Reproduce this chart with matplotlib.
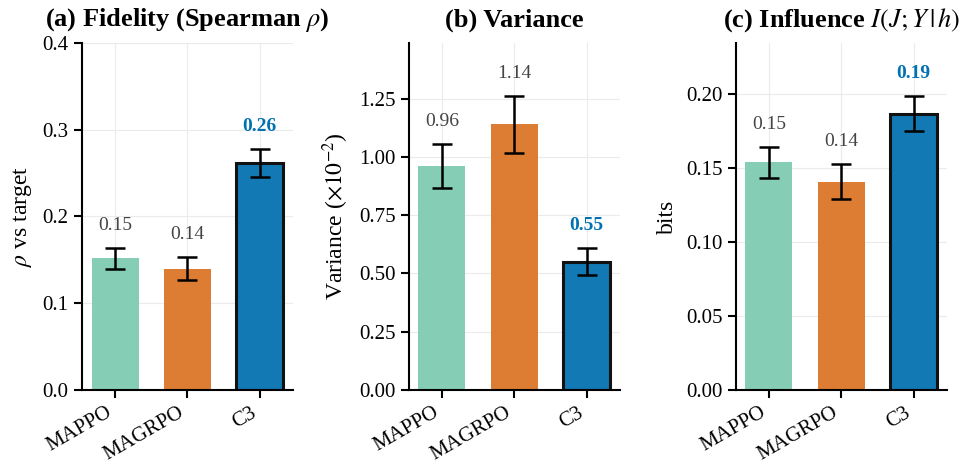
import numpy as np
import matplotlib
matplotlib.use("Agg")
import matplotlib.pyplot as plt
from matplotlib.ticker import MultipleLocator

plt.rcParams['font.family'] = ['Liberation Serif', 'DejaVu Serif']
plt.rcParams['mathtext.fontset'] = 'stix'

methods = ['MAPPO', 'MAGRPO', 'C3']
colors = ['#85CDB5', '#DD7D34', '#1279B4']

fid_mean = [0.152, 0.140, 0.262]
fid_err = [0.012, 0.013, 0.016]

var_mean = [0.96, 1.14, 0.55]
var_err = [0.095, 0.122, 0.058]

inf_mean = [0.154, 0.141, 0.187]
inf_err = [0.0105, 0.012, 0.012]

panels = [
    ('(a) Fidelity (Spearman $\\rho$)', '$\\rho$ vs target', fid_mean, fid_err, 0.4, 0.1),
    ('(b) Variance', 'Variance ($\\times 10^{-2}$)', var_mean, var_err, None, 0.25),
    ('(c) Influence $I(J;Y\\,|\\,h)$', 'bits', inf_mean, inf_err, None, 0.05),
]

fig, axes = plt.subplots(1, 3, figsize=(9.64, 4.66), dpi=100)
fig.subplots_adjust(left=0.085, right=0.982, bottom=0.163, top=0.908, wspace=0.55)

x = np.arange(len(methods))
for ax, (title, ylabel, mean, err, ytop, step) in zip(axes, panels):
    ax.grid(True, color='#ebebeb', linewidth=0.8, zorder=0)
    ax.set_axisbelow(True)
    bars = ax.bar(x, mean, width=0.65, color=colors, zorder=2)
    bars[2].set_edgecolor('#111111')
    bars[2].set_linewidth(2.2)
    ax.errorbar(x, mean, yerr=err, fmt='none', ecolor='black',
                elinewidth=1.8, capsize=7, capthick=1.8, zorder=3)
    if ytop is None:
        ytop = max(m + e for m, e in zip(mean, err)) * 1.18
    ax.set_ylim(0, ytop)
    ax.yaxis.set_major_locator(MultipleLocator(step))
    for i, (m, e) in enumerate(zip(mean, err)):
        if i == 2:
            ax.text(i, m + e + 0.04 * ytop, f'{m:.2f}', ha='center', va='bottom',
                    fontsize=14, fontweight='bold', color='#0072B2')
        else:
            ax.text(i, m + e + 0.04 * ytop, f'{m:.2f}', ha='center', va='bottom',
                    fontsize=14, color='#444444')
    ax.set_xticks(x)
    ax.set_xticklabels(methods, rotation=30, ha='right', fontsize=15)
    ax.tick_params(axis='y', labelsize=15)
    ax.tick_params(width=1.5, length=6)
    ax.set_ylabel(ylabel, fontsize=17, labelpad=6)
    ax.set_title(title, fontsize=19, fontweight='bold', pad=12)
    for s in ['top', 'right']:
        ax.spines[s].set_visible(False)
    for s in ['left', 'bottom']:
        ax.spines[s].set_linewidth(1.5)

fig.savefig('out.png', dpi=100)
